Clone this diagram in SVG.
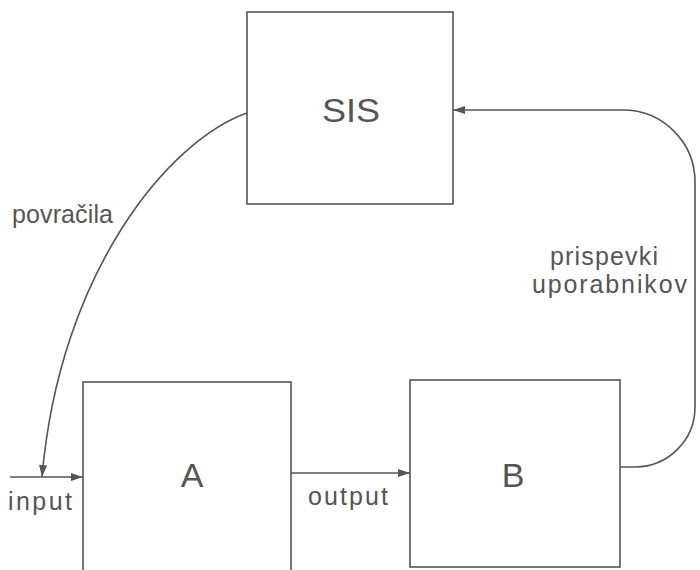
<svg xmlns="http://www.w3.org/2000/svg" width="700" height="570" viewBox="0 0 700 570">
<defs>
<style>
.box{fill:#fff;stroke:#555;stroke-width:1.6}
.edge{fill:none;stroke:#555;stroke-width:1.6}
.lbl{font-family:"Liberation Sans",Arial,sans-serif;fill:#555;font-size:25px}
.big{font-family:"Liberation Sans",Arial,sans-serif;fill:#555;font-size:34px}
</style>
<marker id="arr" viewBox="0 0 12 8" refX="12" refY="4" markerWidth="13" markerHeight="8" markerUnits="userSpaceOnUse" orient="auto">
<path d="M0,0 L12,4 L0,8 Z" fill="#555"/>
</marker>
</defs>
<rect width="700" height="570" fill="#fff"/>
<g id="SIS">
<rect class="box" x="247" y="12" width="206" height="192"/>
<text class="big" x="322" y="122" textLength="58" lengthAdjust="spacingAndGlyphs">SIS</text>
</g>
<g id="A">
<rect class="box" x="83" y="382" width="208" height="200"/>
<text class="big" x="192" y="487" text-anchor="middle">A</text>
</g>
<g id="B">
<rect class="box" x="410" y="380" width="210" height="187"/>
<text class="big" x="513" y="487" text-anchor="middle">B</text>
</g>
<g id="connectors">
<path class="edge" d="M10,477 L83,477" marker-end="url(#arr)"/>
<path class="edge" d="M247,113 C170,140 60,270 42,477" marker-end="url(#arr)"/>
<path class="edge" d="M291,473 L410,473" marker-end="url(#arr)"/>
<path class="edge" d="M620,467 L635,467 A60,60 0 0 0 695,407 L695,182 A72,72 0 0 0 623,110 L453,110" marker-end="url(#arr)"/>
</g>
<g id="labels">
<text class="lbl" x="12" y="223" textLength="101" lengthAdjust="spacing">povračila</text>
<text class="lbl" x="8" y="510" textLength="64" lengthAdjust="spacing">input</text>
<text class="lbl" x="308" y="505" textLength="80" lengthAdjust="spacing">output</text>
<text class="lbl" x="550" y="265" textLength="108" lengthAdjust="spacing">prispevki</text>
<text class="lbl" x="532" y="293" textLength="155" lengthAdjust="spacing">uporabnikov</text>
</g>
</svg>
